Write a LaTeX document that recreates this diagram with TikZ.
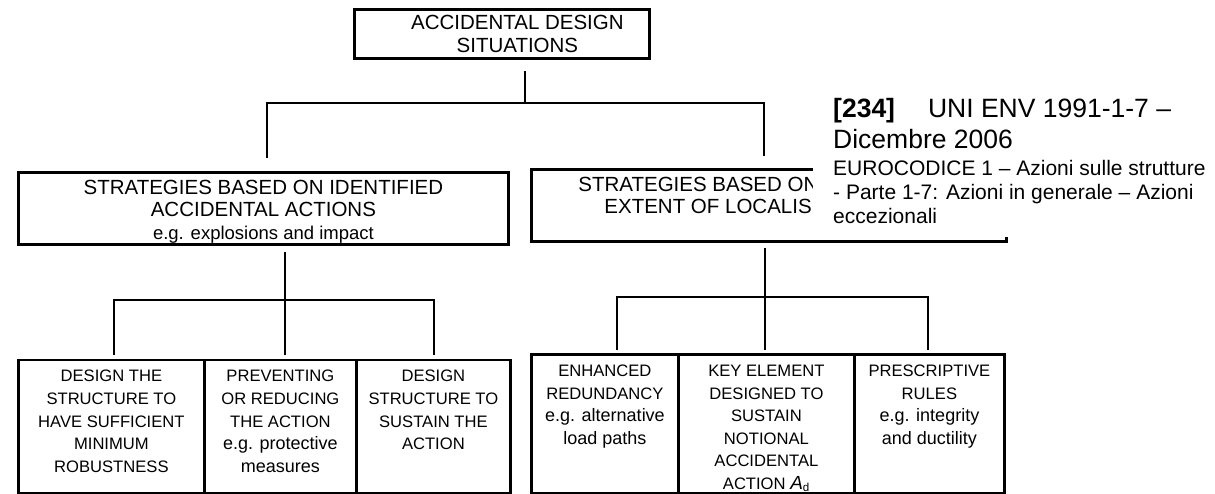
\documentclass[tikz,border=0pt]{standalone}
\usepackage{fontspec}
\setmainfont{Liberation Sans}
\usetikzlibrary{calc}
% width, height, first baseline, font size, line skip, content
\newcommand{\cellpar}[6]{\begin{minipage}[t][#2][t]{#1}\fontsize{#4}{#5}\selectfont\centering\rule{0pt}{#3}#6\par\end{minipage}}
\newcommand{\lcb}[1]{{\fontsize{18}{22.8}\selectfont #1}}
\newcommand{\lcm}[1]{{\fontsize{18.5}{22.5}\selectfont #1}}
\tikzset{
  cell/.style={draw, line width=2.8pt, inner sep=0pt, anchor=north west},
  conn/.style={draw, line width=2.6pt},
}
\begin{document}
\begin{tikzpicture}[x=1pt,y=-1pt]
\useasboundingbox (0,0) rectangle (1215,493);
% boxes
\node[cell] (top) at (353,8) {\cellpar{295pt}{49pt}{20pt}{20.5}{23.5}{\hspace*{31pt}ACCIDENTAL DESIGN\\\hspace*{31pt}SITUATIONS}};
\node[cell] (mid1) at (17,171) {\cellpar{490pt}{72pt}{22pt}{20.5}{22.5}{STRATEGIES BASED ON IDENTIFIED\\ACCIDENTAL ACTIONS\\\lcm{e.g. explosions and impact}}};
\node[cell] (mid2) at (530,168) {\begin{minipage}[t][72pt][t]{475pt}\fontsize{20.5}{22.5}\selectfont\raggedright\rule{0pt}{22pt}\hspace*{47pt}STRATEGIES BASED ON\\\hspace*{73pt}EXTENT OF LOCALISE\par\end{minipage}};
\node[cell] (b1) at (17,358.6) {\cellpar{186pt}{133.4pt}{21.4pt}{16.6}{22.8}{DESIGN THE\\STRUCTURE TO\\HAVE SUFFICIENT\\MINIMUM\\ROBUSTNESS}};
\node[cell] (b2) at (203,358.6) {\cellpar{152pt}{133.4pt}{21.4pt}{16.6}{22.8}{PREVENTING\\OR REDUCING\\THE ACTION\\\lcb{e.g. protective}\\\lcb{measures}}};
\node[cell] (b3) at (355,358.6) {\cellpar{154pt}{133.4pt}{21.4pt}{16.6}{22.8}{DESIGN\\STRUCTURE TO\\SUSTAIN THE\\ACTION}};
\node[cell] (b4) at (530,353) {\cellpar{147pt}{139pt}{22.5pt}{16.6}{22.5}{ENHANCED\\REDUNDANCY\\\lcb{e.g. alternative}\\\lcb{load paths}}};
\node[cell] (b5) at (677,353) {\cellpar{176pt}{139pt}{22.5pt}{16.6}{22.5}{KEY ELEMENT\\DESIGNED TO\\SUSTAIN\\NOTIONAL\\ACCIDENTAL\\ACTION {\fontsize{19}{22.5}\selectfont\itshape A}\textsubscript{d}}};
\node[cell] (b6) at (853,353) {\cellpar{150pt}{139pt}{22.5pt}{16.6}{22.5}{PRESCRIPTIVE\\RULES\\\lcb{e.g. integrity}\\\lcb{and ductility}}};
% junctions
\coordinate (j0) at (525,103);
\coordinate (xl) at (267,0);
\coordinate (xr) at (764,0);
\coordinate (j1) at (285,300);
\coordinate (xa) at (114,0);
\coordinate (xb) at (434,0);
\coordinate (j2) at (765,297);
\coordinate (xc) at (617,0);
\coordinate (xd) at (928,0);
% connectors
\draw[conn, shorten <=11pt] (top.south -| j0) -- (j0);
\draw[conn, shorten >=13pt] (j0) -| (mid1.north -| xl);
\draw[conn, shorten >=12pt] (j0) -| (mid2.north -| xr);
\draw[conn, shorten <=6pt] (mid1.south -| j1) -- (j1);
\draw[conn, shorten >=4pt] (j1) -| (b1.north -| xa);
\draw[conn, shorten >=4pt] (j1) -- (b2.north -| j1);
\draw[conn, shorten >=4pt] (j1) -| (b3.north -| xb);
\draw[conn, shorten <=5pt] (mid2.south -| j2) -- (j2);
\draw[conn, shorten >=3pt] (j2) -| (b4.north -| xc);
\draw[conn, shorten >=3pt] (j2) -- (b5.north -| j2);
\draw[conn, shorten >=3pt] (j2) -| (b6.north -| xd);
% reference label over the picture
\fill[white] (813,82) rectangle (1215,237);
\node[anchor=base west, inner sep=0pt] (ref) at (833,117) {\begin{minipage}[t]{400pt}\raggedright
\fontsize{26.5}{31}\selectfont\textbf{[234]}\hspace{33pt}UNI ENV 1991-1-7 –\\
Dicembre 2006\par
\vspace{3pt}
\fontsize{21}{24}\selectfont EUROCODICE 1 – Azioni sulle strutture\\
- Parte 1-7: Azioni in generale – Azioni\\
eccezionali\par\end{minipage}};
\end{tikzpicture}
\end{document}
